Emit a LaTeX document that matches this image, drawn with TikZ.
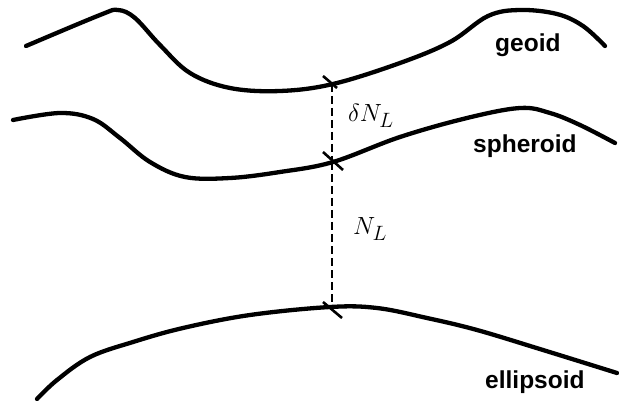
\documentclass[tikz,border=0pt]{standalone}
\usepackage{fontspec}
\setsansfont{Liberation Sans}
\usetikzlibrary{calc}
\begin{document}
\begin{tikzpicture}[x=1pt,y=-1pt,
  surface/.style={line width=4.3pt,line cap=round,line join=round},
  tickmark/.style={line width=2.6pt},
  heightline/.style={line width=2.6pt,dash pattern=on 8pt off 4pt},
  surflabel/.style={anchor=base west,inner sep=0pt,font=\sffamily\bfseries\fontsize{24.5}{28}\selectfont},
  mathlabel/.style={anchor=center,inner sep=0pt,font=\fontsize{28}{32}\selectfont}]
\useasboundingbox (0,0) rectangle (619,401);
% surfaces
\draw[surface] plot[smooth,tension=0.6] coordinates {(26,46) (100,15) (118,10) (135,18) (160,45) (190,73) (230,88) (280,91) (333,84) (400,63) (450,42) (488,16) (520,10) (557,14) (583,26) (605,46)};
\draw[surface] plot[smooth,tension=0.6] coordinates {(13,120) (60,113) (93,119) (120,138) (150,162) (185,177) (230,178) (280,172) (333,162) (400,137) (467,118) (520,108) (550,113) (580,125) (615,143)};
\draw[surface] plot[smooth,tension=0.6] coordinates {(37,399) (57,380) (90,357) (133,342) (183,328) (250,315) (330,307) (377,308) (427,318) (477,330) (543,350) (617,373)};
% intersection points
\coordinate (g) at (332,84);
\coordinate (s) at (332,162);
\coordinate (e) at (332,307);
% dashed height lines
\draw[heightline] (g) -- (s);
\draw[heightline] (s) -- (e);
% tick marks
\draw[tickmark] ($(g)+(-9,-8)$) -- ($(g)+(5,4)$);
\draw[tickmark] ($(s)+(-9,-10)$) -- ($(s)+(11,8)$);
\draw[tickmark] ($(e)+(-9,-5)$) -- ($(e)+(10,11)$);
% labels
\node[surflabel] (lg) at (495,52) {geoid};
\node[surflabel] (ls) at (473,153) {spheroid};
\node[surflabel] (le) at (485,388) {ellipsoid};
\node[mathlabel] (ldn) at (371,116) {$\delta N_L$};
\node[mathlabel] (ln) at (370,229) {$N_L$};
\end{tikzpicture}
\end{document}
